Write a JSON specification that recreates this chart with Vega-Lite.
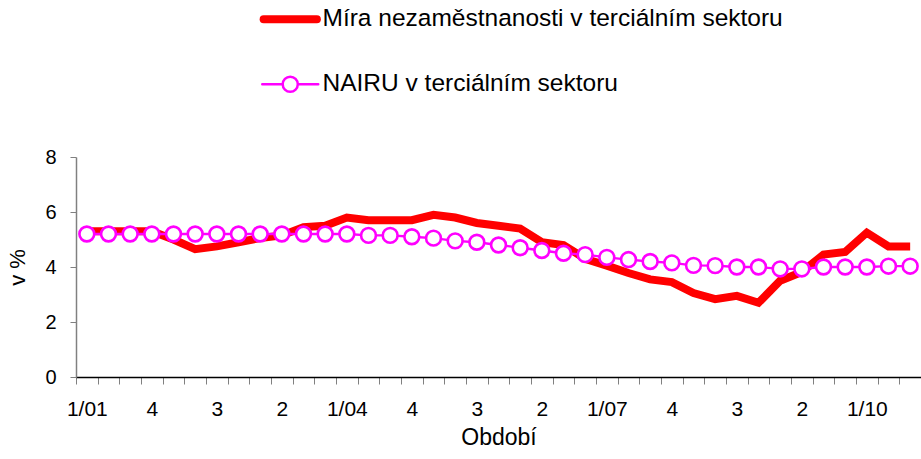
{
  "$schema": "https://vega.github.io/schema/vega-lite/v6.json",
  "width": 845,
  "height": 220,
  "autosize": {"type": "none"},
  "padding": {"left": 76, "top": 157, "right": 0, "bottom": 82},
  "background": "white",
  "config": {"view": {"stroke": null}, "font": "Liberation Sans"},
  "datasets": {
    "rows": [
      {"q": "1/01", "s": "M", "v": 5.3}, {"q": "2/01", "s": "M", "v": 5.3}, {"q": "3/01", "s": "M", "v": 5.3}, {"q": "4/01", "s": "M", "v": 5.3},
      {"q": "1/02", "s": "M", "v": 5.0}, {"q": "2/02", "s": "M", "v": 4.65}, {"q": "3/02", "s": "M", "v": 4.75}, {"q": "4/02", "s": "M", "v": 4.9},
      {"q": "1/03", "s": "M", "v": 5.05}, {"q": "2/03", "s": "M", "v": 5.15}, {"q": "3/03", "s": "M", "v": 5.45}, {"q": "4/03", "s": "M", "v": 5.5},
      {"q": "1/04", "s": "M", "v": 5.8}, {"q": "2/04", "s": "M", "v": 5.7}, {"q": "3/04", "s": "M", "v": 5.7}, {"q": "4/04", "s": "M", "v": 5.7},
      {"q": "1/05", "s": "M", "v": 5.9}, {"q": "2/05", "s": "M", "v": 5.8}, {"q": "3/05", "s": "M", "v": 5.6}, {"q": "4/05", "s": "M", "v": 5.5},
      {"q": "1/06", "s": "M", "v": 5.4}, {"q": "2/06", "s": "M", "v": 4.9}, {"q": "3/06", "s": "M", "v": 4.8}, {"q": "4/06", "s": "M", "v": 4.3},
      {"q": "1/07", "s": "M", "v": 4.05}, {"q": "2/07", "s": "M", "v": 3.78}, {"q": "3/07", "s": "M", "v": 3.55}, {"q": "4/07", "s": "M", "v": 3.45},
      {"q": "1/08", "s": "M", "v": 3.05}, {"q": "2/08", "s": "M", "v": 2.83}, {"q": "3/08", "s": "M", "v": 2.95}, {"q": "4/08", "s": "M", "v": 2.7},
      {"q": "1/09", "s": "M", "v": 3.5}, {"q": "2/09", "s": "M", "v": 3.82}, {"q": "3/09", "s": "M", "v": 4.45}, {"q": "4/09", "s": "M", "v": 4.55},
      {"q": "1/10", "s": "M", "v": 5.25}, {"q": "2/10", "s": "M", "v": 4.75}, {"q": "3/10", "s": "M", "v": 4.75},
      {"q": "1/01", "s": "N", "v": 5.2}, {"q": "2/01", "s": "N", "v": 5.2}, {"q": "3/01", "s": "N", "v": 5.2}, {"q": "4/01", "s": "N", "v": 5.2},
      {"q": "1/02", "s": "N", "v": 5.2}, {"q": "2/02", "s": "N", "v": 5.2}, {"q": "3/02", "s": "N", "v": 5.2}, {"q": "4/02", "s": "N", "v": 5.2},
      {"q": "1/03", "s": "N", "v": 5.2}, {"q": "2/03", "s": "N", "v": 5.2}, {"q": "3/03", "s": "N", "v": 5.2}, {"q": "4/03", "s": "N", "v": 5.2},
      {"q": "1/04", "s": "N", "v": 5.2}, {"q": "2/04", "s": "N", "v": 5.15}, {"q": "3/04", "s": "N", "v": 5.15}, {"q": "4/04", "s": "N", "v": 5.1},
      {"q": "1/05", "s": "N", "v": 5.05}, {"q": "2/05", "s": "N", "v": 4.95}, {"q": "3/05", "s": "N", "v": 4.9}, {"q": "4/05", "s": "N", "v": 4.8},
      {"q": "1/06", "s": "N", "v": 4.7}, {"q": "2/06", "s": "N", "v": 4.6}, {"q": "3/06", "s": "N", "v": 4.5}, {"q": "4/06", "s": "N", "v": 4.45},
      {"q": "1/07", "s": "N", "v": 4.35}, {"q": "2/07", "s": "N", "v": 4.27}, {"q": "3/07", "s": "N", "v": 4.2}, {"q": "4/07", "s": "N", "v": 4.15},
      {"q": "1/08", "s": "N", "v": 4.06}, {"q": "2/08", "s": "N", "v": 4.05}, {"q": "3/08", "s": "N", "v": 4.0}, {"q": "4/08", "s": "N", "v": 4.0},
      {"q": "1/09", "s": "N", "v": 3.93}, {"q": "2/09", "s": "N", "v": 3.93}, {"q": "3/09", "s": "N", "v": 4.0}, {"q": "4/09", "s": "N", "v": 4.0},
      {"q": "1/10", "s": "N", "v": 4.0}, {"q": "2/10", "s": "N", "v": 4.03}, {"q": "3/10", "s": "N", "v": 4.03}
    ]
  },
  "data": {"name": "rows"},
  "transform": [
    {"lookup": "s", "from": {"data": {"values": [
      {"s": "M", "name": "Míra nezaměstnanosti v terciálním sektoru"},
      {"s": "N", "name": "NAIRU v terciálním sektoru"}
    ]}, "key": "s", "fields": ["name"]}}
  ],
  "encoding": {
    "x": {
      "field": "q", "type": "ordinal", "sort": null,
      "scale": {"paddingInner": 0, "paddingOuter": 0},
      "axis": {
        "title": "Období", "titleFontSize": 23, "titleFontWeight": "normal", "titleColor": "black", "titlePadding": 7,
        "labelAngle": 0, "labelFontSize": 21, "labelColor": "black", "labelPadding": 14,
        "labelOverlap": false, "labelBound": false,
        "labelExpr": "indexof(['1/01','4/01','3/02','2/03','1/04','4/04','3/05','2/06','1/07','4/07','3/08','2/09','1/10'], datum.value) >= 0 ? (substring(datum.value,0,1) == '1' ? datum.value : substring(datum.value,0,1)) : ''",
        "tickBand": "extent", "tickSize": 7, "tickColor": "#808080", "domainColor": "black", "domainWidth": 1.5
      }
    },
    "y": {
      "field": "v", "type": "quantitative",
      "scale": {"domain": [0, 8]},
      "axis": {
        "title": "v %", "titleFontSize": 22, "titleFontWeight": "normal", "titleColor": "black", "titlePadding": 15,
        "values": [0, 2, 4, 6, 8], "grid": false,
        "labelFontSize": 20, "labelColor": "black", "labelPadding": 14,
        "tickSize": 6, "tickColor": "#808080", "domainColor": "#808080", "domainWidth": 1.5
      }
    },
    "color": {
      "field": "name", "type": "nominal",
      "scale": {"domain": ["Míra nezaměstnanosti v terciálním sektoru", "NAIRU v terciálním sektoru"], "range": ["#FF0000", "#FF00FF"]},
      "legend": {
        "title": null, "orient": "none", "legendX": 202, "legendY": -150, "direction": "vertical",
        "padding": 0, "symbolSize": 3136, "rowPadding": 35, "labelOffset": 20,
        "labelFontSize": 24.5, "labelColor": "black", "labelLimit": 700,
        "encode": {
          "symbols": {
            "update": {
              "shape": {"signal": "datum.value == 'NAIRU v terciálním sektoru' ? 'M-1,0H-0.27M0.27,0H1M-0.27,0A0.27,0.27,0,1,0,0.27,0A0.27,0.27,0,1,0,-0.27,0Z' : 'M-0.95,0H0.95'"},
              "strokeWidth": {"signal": "datum.value == 'NAIRU v terciálním sektoru' ? 2.5 : 8"},
              "fill": {"signal": "datum.value == 'NAIRU v terciálním sektoru' ? 'white' : 'transparent'"},
              "strokeCap": {"value": "round"}
            }
          }
        }
      }
    }
  },
  "layer": [
    {"transform": [{"filter": "datum.s == 'M'"}], "mark": {"type": "line", "strokeWidth": 8}},
    {"transform": [{"filter": "datum.s == 'N'"}], "mark": {"type": "line", "strokeWidth": 2.3}},
    {"transform": [{"filter": "datum.s == 'N'"}], "mark": {"type": "point", "shape": "circle", "filled": false, "fill": "white", "fillOpacity": 1, "opacity": 1, "strokeWidth": 2.6, "size": 220}}
  ]
}
